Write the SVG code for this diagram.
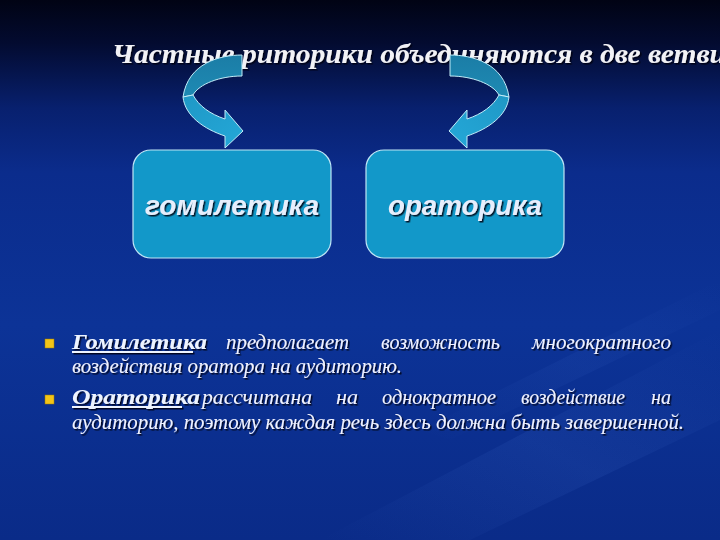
<svg xmlns="http://www.w3.org/2000/svg" width="720" height="540" viewBox="0 0 720 540">
<defs>
<linearGradient id="bg" x1="0" y1="0" x2="0" y2="1">
<stop offset="0" stop-color="#010314"/>
<stop offset="0.08" stop-color="#030b30"/>
<stop offset="0.2" stop-color="#08206e"/>
<stop offset="0.32" stop-color="#0b2c8c"/>
<stop offset="0.6" stop-color="#0c3397"/>
<stop offset="1" stop-color="#0a2b88"/>
</linearGradient>
<linearGradient id="streak" x1="0" y1="1" x2="1" y2="0">
<stop offset="0" stop-color="#4a78d8" stop-opacity="0"/>
<stop offset="0.5" stop-color="#4a78d8" stop-opacity="0.12"/>
<stop offset="1" stop-color="#4a78d8" stop-opacity="0"/>
</linearGradient>
<linearGradient id="back" x1="0" y1="0" x2="0" y2="1">
<stop offset="0" stop-color="#1b7da6"/>
<stop offset="1" stop-color="#1e8ab4"/>
</linearGradient>
<linearGradient id="front" x1="0" y1="0" x2="1" y2="1">
<stop offset="0" stop-color="#1f98c6"/>
<stop offset="1" stop-color="#24a8d8"/>
</linearGradient>
<filter id="sh" x="-5%" y="-20%" width="110%" height="150%">
<feDropShadow dx="1.5" dy="1.5" stdDeviation="0.6" flood-color="#000010" flood-opacity="0.85"/>
</filter>
<g id="arrow">
<path class="arrb" d="M242,55 C220,55 188,63 183,97 L193,95 C199,84 220,76 242,76 Z"/>
<path class="arrf" d="M183,97 C185,116 204,129 225,136 L225,148 L243,131 L225,110 L225,119 C210,114 199,106 193,95 Z"/>
</g>
</defs>
<style>
.title{font-family:"Liberation Serif",serif;font-weight:bold;font-style:italic;font-size:27px;fill:#f2f2f6}
.box{fill:#1298c9;stroke:#bfe6f6;stroke-width:1.2}
.boxt{font-family:"Liberation Sans",Arial,sans-serif;font-weight:bold;font-style:italic;font-size:27px;fill:#e6eefc;text-anchor:middle}
.body{font-family:"Liberation Serif",serif;font-style:italic;font-size:21px;fill:#f0f2ff}
.bold{font-family:"Liberation Serif",serif;font-style:italic;font-weight:bold;font-size:22px;fill:#eef4ff}
.bullet{fill:#f2c418;stroke:#a07c00;stroke-width:0.5}
.ul{stroke:#eef4ff;stroke-width:1.8}
.arrb{fill:url(#back);stroke:#c2ecf8;stroke-width:1;stroke-linejoin:round}
.arrf{fill:url(#front);stroke:#c2ecf8;stroke-width:1;stroke-linejoin:round}
</style>
<rect x="0" y="0" width="720" height="540" fill="url(#bg)"/>
<path d="M320,540 L720,330 L720,420 L470,540 Z" fill="url(#streak)"/>
<path d="M420,430 L720,280 L720,310 L450,440 Z" fill="url(#streak)" opacity="0.7"/>

<g id="title" filter="url(#sh)">
<text class="title" x="112" y="63" textLength="614" lengthAdjust="spacingAndGlyphs">Частные риторики объединяются в две ветви</text>
</g>

<g id="connectors">
<use href="#arrow"/>
<use href="#arrow" transform="translate(692,0) scale(-1,1)"/>
</g>

<g id="node-homiletics">
<rect class="box" x="133" y="150" width="198" height="108" rx="18"/>
<text class="boxt" x="232" y="215" filter="url(#sh)" textLength="174" lengthAdjust="spacingAndGlyphs">гомилетика</text>
</g>
<g id="node-oratorics">
<rect class="box" x="366" y="150" width="198" height="108" rx="18"/>
<text class="boxt" x="465" y="215" filter="url(#sh)" textLength="154" lengthAdjust="spacingAndGlyphs">ораторика</text>
</g>

<g id="bullets">
<rect class="bullet" x="45" y="339" width="9" height="9"/>
<rect class="bullet" x="45" y="395" width="9" height="9"/>
<g filter="url(#sh)">
<text class="bold" x="72" y="349" textLength="135" lengthAdjust="spacingAndGlyphs">Гомилетика</text>
<line class="ul" x1="72" y1="352" x2="193" y2="352"/>
<text class="body" x="226" y="349" textLength="123" lengthAdjust="spacingAndGlyphs">предполагает</text>
<text class="body" x="381" y="349" textLength="119" lengthAdjust="spacingAndGlyphs">возможность</text>
<text class="body" x="532" y="349" textLength="139" lengthAdjust="spacingAndGlyphs">многократного</text>
<text class="body" x="72" y="373" textLength="330" lengthAdjust="spacingAndGlyphs">воздействия оратора на аудиторию.</text>
<text class="bold" x="72" y="404" textLength="128" lengthAdjust="spacingAndGlyphs">Ораторика</text>
<line class="ul" x1="72" y1="407" x2="182" y2="407"/>
<text class="body" x="202" y="404" textLength="110" lengthAdjust="spacingAndGlyphs">рассчитана</text>
<text class="body" x="336" y="404" textLength="22" lengthAdjust="spacingAndGlyphs">на</text>
<text class="body" x="382" y="404" textLength="114" lengthAdjust="spacingAndGlyphs">однократное</text>
<text class="body" x="521" y="404" textLength="104" lengthAdjust="spacingAndGlyphs">воздействие</text>
<text class="body" x="651" y="404" textLength="20" lengthAdjust="spacingAndGlyphs">на</text>
<text class="body" x="72" y="429" textLength="612" lengthAdjust="spacingAndGlyphs">аудиторию, поэтому каждая речь здесь должна быть завершенной.</text>
</g>
</g>
</svg>
